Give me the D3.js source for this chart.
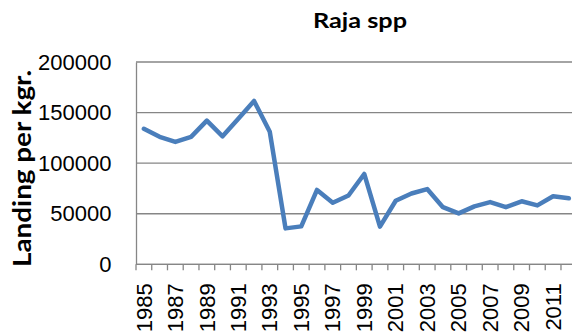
<!DOCTYPE html>
<html>
<head>
<meta charset="utf-8">
<script src="https://cdn.jsdelivr.net/npm/d3@7"></script>
<style>
  html, body { margin: 0; padding: 0; background: #fff; }
  svg { display: block; }
</style>
</head>
<body>
<svg id="chart" width="572" height="334"></svg>
<script>
// Annual landings of Raja spp (kg)
const years = d3.range(1985, 2013);
const landings = [
  134000, 126000, 121000, 126000, 142000, 126500, 144000, 161500, 131000,
  35500, 37500, 73500, 60800, 68000, 89300, 37200, 62800, 70000, 74400,
  56500, 50300, 57300, 61500, 56500, 62300, 58200, 67300, 65200
];
const yTicks = [0, 50000, 100000, 150000, 200000];
const xLabelYears = years.filter((yr, i) => i % 2 === 0);

(function draw() {
  const svg = d3.select("#chart");
  const plotLeft = 136, plotTop = 62, plotBottom = 264.3;
  const step = 15.74;
  const plotRight = plotLeft + step * years.length;

  const x = d3.scaleBand()
    .domain(years)
    .range([plotLeft, plotRight])
    .padding(0);
  const y = d3.scaleLinear().domain([0, 200000]).range([plotBottom, plotTop]);

  const grey = "#868686";

  // horizontal gridlines
  svg.append("g")
    .selectAll("line")
    .data(yTicks)
    .join("line")
    .attr("x1", plotLeft)
    .attr("x2", plotRight)
    .attr("y1", d => y(d))
    .attr("y2", d => y(d))
    .attr("stroke", grey)
    .attr("stroke-width", 1.3);

  // y axis
  const yAxis = svg.append("g")
    .attr("transform", `translate(${plotLeft},0)`)
    .call(d3.axisLeft(y).tickValues(yTicks).tickSize(0).tickPadding(24.5).tickFormat(d3.format("d")));
  yAxis.select(".domain").attr("stroke", grey).attr("stroke-width", 1.3);
  yAxis.selectAll("text")
    .attr("font-family", "Liberation Sans, Arial, sans-serif")
    .attr("font-size", 22)
    .attr("fill", "#000");

  // x axis: labels centred in categories, tick marks between categories
  const xAxis = svg.append("g")
    .attr("transform", `translate(0,${plotBottom})`)
    .call(d3.axisBottom(x).tickValues(xLabelYears).tickSize(0).tickPadding(0));
  xAxis.select(".domain").remove();
  xAxis.selectAll("text")
    .attr("font-family", "Liberation Sans, Arial, sans-serif")
    .attr("font-size", 22)
    .attr("fill", "#000")
    .attr("transform", "rotate(-90)")
    .attr("text-anchor", "end")
    .attr("x", -19)
    .attr("y", 0)
    .attr("dy", "0.35em");

  svg.append("line")
    .attr("x1", plotLeft).attr("x2", plotRight)
    .attr("y1", plotBottom).attr("y2", plotBottom)
    .attr("stroke", grey).attr("stroke-width", 1.3);

  svg.append("g")
    .selectAll("line")
    .data(years.concat([null]))
    .join("line")
    .attr("x1", d => d === null ? plotRight : x(d))
    .attr("x2", d => d === null ? plotRight : x(d))
    .attr("y1", plotBottom)
    .attr("y2", plotBottom + 6)
    .attr("stroke", grey)
    .attr("stroke-width", 1.3);

  // data line
  const line = d3.line()
    .x((d, i) => x(years[i]) + x.bandwidth() / 2)
    .y(d => y(d));
  svg.append("path")
    .datum(landings)
    .attr("d", line)
    .attr("fill", "none")
    .attr("stroke", "#4a7ebb")
    .attr("stroke-width", 4.5)
    .attr("stroke-linejoin", "round")
    .attr("stroke-linecap", "round");

  // title
  svg.append("text")
    .attr("x", 360)
    .attr("y", 28)
    .attr("text-anchor", "middle")
    .attr("font-family", "Lato, 'Open Sans', sans-serif")
    .attr("font-weight", "bold")
    .attr("font-size", 21)
    .attr("textLength", 94)
    .attr("lengthAdjust", "spacingAndGlyphs")
    .attr("fill", "#000")
    .text("Raja spp");

  // y axis title
  svg.append("text")
    .attr("transform", "translate(31,168.5) rotate(-90)")
    .attr("text-anchor", "middle")
    .attr("font-family", "Lato, 'Open Sans', sans-serif")
    .attr("font-weight", "bold")
    .attr("font-size", 24)
    .attr("textLength", 197)
    .attr("lengthAdjust", "spacingAndGlyphs")
    .attr("fill", "#000")
    .text("Landing per kgr.");
})();
</script>
</body>
</html>
